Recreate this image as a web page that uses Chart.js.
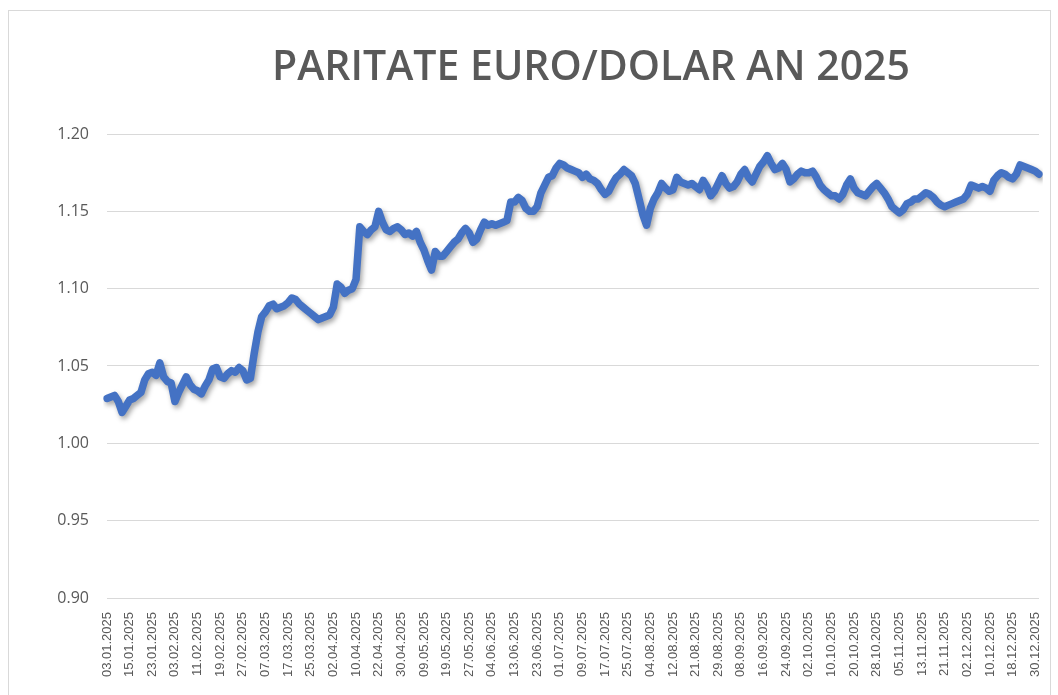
<!DOCTYPE html>
<html>
<head>
<meta charset="utf-8">
<script src="https://cdn.jsdelivr.net/npm/chart.js@4/dist/chart.umd.min.js"></script>
<style>
  html, body { margin: 0; padding: 0; background: #fff; }
  #wrap { position: absolute; left: 0; top: 0; width: 1058px; height: 695px; }
  #rama { position: absolute; left: 8px; top: 10px; width: 1041px; height: 700px; border: 1px solid #d9d9d9; pointer-events: none; }
</style>
</head>
<body>
<div id="wrap"><canvas id="grafic" width="1058" height="695"></canvas></div>
<div id="rama"></div>
<script>
// etichete afisate pe axa X (una la 6 zile lucratoare)
const eticheteX = [
  '03.01.2025', '15.01.2025', '23.01.2025', '03.02.2025', '11.02.2025', '19.02.2025',
  '27.02.2025', '07.03.2025', '17.03.2025', '25.03.2025', '02.04.2025', '10.04.2025',
  '22.04.2025', '30.04.2025', '09.05.2025', '19.05.2025', '27.05.2025', '04.06.2025',
  '13.06.2025', '23.06.2025', '01.07.2025', '09.07.2025', '17.07.2025', '25.07.2025',
  '04.08.2025', '12.08.2025', '21.08.2025', '29.08.2025', '08.09.2025', '16.09.2025',
  '24.09.2025', '02.10.2025', '10.10.2025', '20.10.2025', '28.10.2025', '05.11.2025',
  '13.11.2025', '21.11.2025', '02.12.2025', '10.12.2025', '18.12.2025', '30.12.2025'
];
const pas = 6;
const titlu = 'PARITATE EURO/DOLAR AN 2025';

// paritatea EUR/USD pe luni
const ianuarie = [1.029, 1.030, 1.031, 1.027, 1.020, 1.024, 1.028, 1.029, 1.031, 1.033, 1.041, 1.045, 1.046, 1.044, 1.052, 1.043, 1.040, 1.039];
const februarie = [1.027, 1.033, 1.038, 1.043, 1.038, 1.035, 1.034, 1.032, 1.037, 1.041, 1.048, 1.049, 1.043, 1.042, 1.045, 1.047, 1.046, 1.049, 1.047, 1.041];
const martie = [1.042, 1.058, 1.072, 1.082, 1.085, 1.089, 1.090, 1.087, 1.088, 1.089, 1.091, 1.094, 1.093, 1.090, 1.088, 1.086, 1.084, 1.082, 1.080, 1.081, 1.082];
const aprilie = [1.083, 1.088, 1.103, 1.101, 1.097, 1.099, 1.100, 1.106, 1.140, 1.137, 1.135, 1.138, 1.140, 1.150, 1.143, 1.138, 1.137, 1.139, 1.140, 1.138];
const mai = [1.135, 1.136, 1.134, 1.137, 1.130, 1.125, 1.118, 1.112, 1.124, 1.121, 1.121, 1.124, 1.127, 1.130, 1.132, 1.136, 1.139, 1.136, 1.130, 1.132, 1.138];
const iunie = [1.143, 1.141, 1.142, 1.141, 1.142, 1.143, 1.144, 1.156, 1.156, 1.159, 1.157, 1.152, 1.150, 1.150, 1.153, 1.162, 1.167, 1.172, 1.173, 1.178];
const iulie = [1.181, 1.180, 1.178, 1.177, 1.176, 1.175, 1.172, 1.174, 1.171, 1.170, 1.168, 1.164, 1.161, 1.163, 1.168, 1.172, 1.174, 1.177, 1.175, 1.173, 1.168, 1.158, 1.148];
const august = [1.141, 1.152, 1.158, 1.162, 1.168, 1.165, 1.163, 1.164, 1.172, 1.169, 1.168, 1.167, 1.168, 1.166, 1.164, 1.170, 1.166, 1.160, 1.163, 1.168];
const septembrie = [1.173, 1.168, 1.165, 1.166, 1.169, 1.174, 1.177, 1.172, 1.169, 1.174, 1.179, 1.182, 1.186, 1.181, 1.177, 1.178, 1.181, 1.177, 1.169, 1.171, 1.174, 1.176];
const octombrie = [1.175, 1.175, 1.176, 1.172, 1.167, 1.164, 1.162, 1.160, 1.160, 1.158, 1.161, 1.167, 1.171, 1.165, 1.162, 1.161, 1.160, 1.163, 1.166, 1.168, 1.165, 1.162, 1.158];
const noiembrie = [1.153, 1.151, 1.149, 1.151, 1.155, 1.156, 1.158, 1.158, 1.160, 1.162, 1.161, 1.159, 1.156, 1.154, 1.153, 1.154, 1.155, 1.156, 1.157, 1.158];
const decembrie = [1.161, 1.167, 1.166, 1.165, 1.166, 1.165, 1.163, 1.170, 1.173, 1.175, 1.174, 1.172, 1.171, 1.174, 1.180, 1.179, 1.178, 1.177, 1.176, 1.174];

const valori = [].concat(ianuarie, februarie, martie, aprilie, mai, iunie, iulie, august, septembrie, octombrie, noiembrie, decembrie);
const etichete = valori.map((v, i) => (i % pas === 0 ? eticheteX[i / pas] : ''));

const gri = '#595959';

// umbra sub linie, ca in Excel
const umbra = {
  id: 'umbra',
  beforeDatasetDraw(chart) {
    const ctx = chart.ctx;
    ctx.save();
    ctx.shadowColor = 'rgba(0, 0, 0, 0.35)';
    ctx.shadowBlur = 5;
    ctx.shadowOffsetX = 2;
    ctx.shadowOffsetY = 3;
  },
  afterDatasetDraw(chart) {
    chart.ctx.restore();
  }
};

// titlul e pus ca in Excel, putin spre dreapta
const titluExcel = {
  id: 'titluExcel',
  afterDraw(chart) {
    const ctx = chart.ctx;
    ctx.save();
    ctx.fillStyle = gri;
    ctx.font = '600 41px "Open Sans"';
    ctx.textAlign = 'center';
    ctx.textBaseline = 'middle';
    ctx.fillText(titlu, 591, 68);
    ctx.restore();
  }
};

new Chart(document.getElementById('grafic'), {
  type: 'line',
  data: {
    labels: etichete,
    datasets: [{
      data: valori,
      borderColor: '#4472C4',
      borderWidth: 7.5,
      borderJoinStyle: 'round',
      borderCapStyle: 'round',
      pointRadius: 0,
      tension: 0,
      fill: false
    }]
  },
  options: {
    responsive: false,
    animation: false,
    layout: { padding: { top: 134, right: 19, bottom: 0, left: 0 } },
    plugins: {
      legend: { display: false },
      tooltip: { enabled: false },
      title: { display: false }
    },
    scales: {
      x: {
        offset: false,
        grid: { display: false },
        border: { display: false },
        ticks: {
          autoSkip: false,
          minRotation: 90,
          maxRotation: 90,
          padding: 6,
          color: gri,
          font: { family: 'Liberation Sans', size: 13 },
          callback: (val, i) => (i % pas === 0 ? eticheteX[i / pas] : null)
        },
        afterFit: (scale) => { scale.height = 97; }
      },
      y: {
        min: 0.90,
        max: 1.20,
        grid: { color: '#d9d9d9', lineWidth: 1, drawTicks: false },
        border: { display: false },
        ticks: {
          stepSize: 0.05,
          padding: 18,
          color: gri,
          font: { family: 'Open Sans', size: 16 },
          callback: (v) => v.toFixed(2)
        },
        afterFit: (scale) => { scale.width = 107; }
      }
    }
  },
  plugins: [umbra, titluExcel]
});
</script>
</body>
</html>
